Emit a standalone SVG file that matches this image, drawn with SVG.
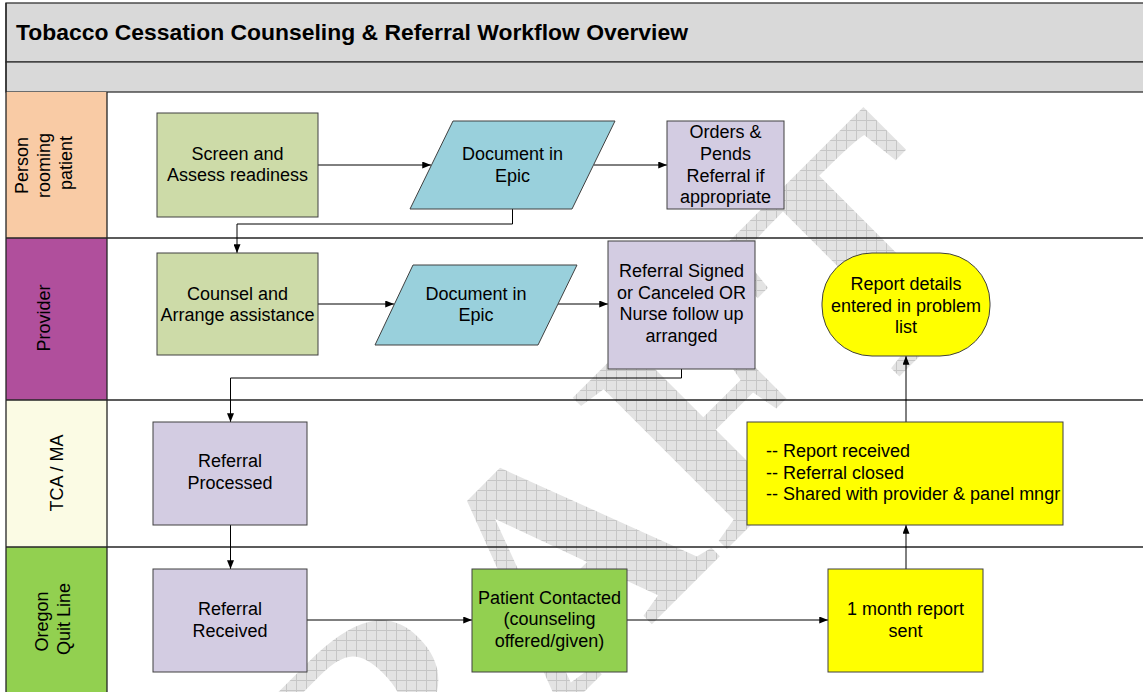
<svg xmlns="http://www.w3.org/2000/svg" width="1143" height="692" viewBox="0 0 1143 692">
  <defs>
    <style>
      .t { font-family: "Liberation Sans", Arial, sans-serif; font-size: 18px; fill: #000; }
      .title { font-family: "Liberation Sans", Arial, sans-serif; font-size: 22px; font-weight: bold; fill: #000; }
      .node { stroke: #404040; stroke-width: 1; }
      .lane { stroke: #262626; stroke-width: 1.3; fill: none; }
      .conn { stroke: #000; stroke-width: 1; fill: none; marker-end: url(#arr); }
    </style>
    <marker id="arr" viewBox="0 0 10 8" refX="10" refY="4" markerWidth="9" markerHeight="7" markerUnits="userSpaceOnUse" orient="auto">
      <path d="M0,0 L10,4 L0,8 Z" fill="#000"/>
    </marker>
    <pattern id="hatch" patternUnits="userSpaceOnUse" width="10" height="10" patternTransform="rotate(45)">
      <rect width="10" height="10" fill="#e3e3e3"/>
      <path d="M0,0.5H10M0.5,0V10" stroke="#c6c6c6" stroke-width="1"/>
    </pattern>
  </defs>

  <rect x="0" y="0" width="1143" height="692" fill="#fff"/>

  <g id="frame">
    <rect x="6" y="3" width="1150" height="59" fill="#d9d9d9" stroke="#333" stroke-width="1.3"/>
    <rect x="6" y="62" width="1150" height="30" fill="#d9d9d9" stroke="#333" stroke-width="1.3"/>
    <text class="title" x="16" y="40" textLength="672" lengthAdjust="spacingAndGlyphs">Tobacco Cessation Counseling &amp; Referral Workflow Overview</text>
  </g>

  <g id="lane-labels">
    <rect x="6" y="92" width="101" height="146" fill="#f9cba5"/>
    <rect x="6" y="238" width="101" height="162" fill="#b04f9c"/>
    <rect x="6" y="400" width="101" height="147" fill="#fbfbe4"/>
    <rect x="6" y="547" width="101" height="150" fill="#92d050"/>
    <text class="t" text-anchor="middle" transform="translate(0,163) rotate(-90)">
      <tspan x="0" y="28">Person</tspan>
      <tspan x="0" y="50">rooming</tspan>
      <tspan x="0" y="72">patient</tspan>
    </text>
    <text class="t" text-anchor="middle" transform="translate(0,318) rotate(-90)"><tspan x="0" y="50">Provider</tspan></text>
    <text class="t" text-anchor="middle" transform="translate(0,473) rotate(-90)"><tspan x="0" y="63">TCA / MA</tspan></text>
    <text class="t" text-anchor="middle" transform="translate(0,619) rotate(-90)">
      <tspan x="0" y="48">Oregon</tspan>
      <tspan x="0" y="70">Quit Line</tspan>
    </text>
  </g>

  <g id="watermark">
    <text transform="translate(216,1060) rotate(-45)" font-family="'Liberation Serif', 'Times New Roman', serif" font-weight="bold" font-size="330" fill="url(#hatch)">DRAFT</text>
  </g>

  <g id="lanes">
    <path class="lane" d="M6,3V700 M107,92V700 M6,238H1150 M6,400H1150 M6,547H1150"/>
  </g>

  <g id="connectors">
    <path class="conn" d="M318,165H431"/>
    <path class="conn" d="M594,165H667"/>
    <path class="conn" d="M512.5,209V224H237V253"/>
    <path class="conn" d="M318,304H394"/>
    <path class="conn" d="M558,304H608"/>
    <path class="conn" d="M681.5,369V378H230.5V422"/>
    <path class="conn" d="M230.5,525V569"/>
    <path class="conn" d="M307,620H472"/>
    <path class="conn" d="M627,620H828"/>
    <path class="conn" d="M906,569V525"/>
    <path class="conn" d="M906,422V356"/>
  </g>

  <g id="screen">
    <rect class="node" x="157" y="113" width="161" height="104" fill="#cddba8"/>
    <text class="t" text-anchor="middle"><tspan x="237.5" y="159.5">Screen and</tspan><tspan x="237.5" y="181">Assess readiness</tspan></text>
  </g>

  <g id="doc1">
    <path class="node" d="M453,121H615L572,209H410Z" fill="#99d0dc"/>
    <text class="t" text-anchor="middle"><tspan x="512.5" y="160">Document in</tspan><tspan x="512.5" y="181.5">Epic</tspan></text>
  </g>

  <g id="orders">
    <rect class="node" x="667" y="121" width="117" height="88" fill="#d3cce2"/>
    <text class="t" text-anchor="middle"><tspan x="725.5" y="138">Orders &amp;</tspan><tspan x="725.5" y="160">Pends</tspan><tspan x="725.5" y="181.5">Referral if</tspan><tspan x="725.5" y="203">appropriate</tspan></text>
  </g>

  <g id="counsel">
    <rect class="node" x="157" y="253" width="161" height="102" fill="#cddba8"/>
    <text class="t" text-anchor="middle"><tspan x="237.5" y="299.5">Counsel and</tspan><tspan x="237.5" y="321">Arrange assistance</tspan></text>
  </g>

  <g id="doc2">
    <path class="node" d="M413,265H577L538,345H375Z" fill="#99d0dc"/>
    <text class="t" text-anchor="middle"><tspan x="476" y="299.5">Document in</tspan><tspan x="476" y="321">Epic</tspan></text>
  </g>

  <g id="signed">
    <rect class="node" x="608" y="241" width="147" height="128" fill="#d3cce2"/>
    <text class="t" text-anchor="middle"><tspan x="681.5" y="277">Referral Signed</tspan><tspan x="681.5" y="298.5">or Canceled OR</tspan><tspan x="681.5" y="320">Nurse follow up</tspan><tspan x="681.5" y="341.5">arranged</tspan></text>
  </g>

  <g id="report-details">
    <rect class="node" x="822" y="253" width="168" height="103" rx="50" ry="50" fill="#ffff00"/>
    <text class="t" text-anchor="middle"><tspan x="906" y="290">Report details</tspan><tspan x="906" y="311.5">entered in problem</tspan><tspan x="906" y="333">list</tspan></text>
  </g>

  <g id="processed">
    <rect class="node" x="153" y="422" width="154" height="103" fill="#d3cce2"/>
    <text class="t" text-anchor="middle"><tspan x="230" y="467">Referral</tspan><tspan x="230" y="488.5">Processed</tspan></text>
  </g>

  <g id="report-received">
    <rect class="node" x="747" y="422" width="316" height="103" fill="#ffff00"/>
    <text class="t"><tspan x="766" y="457">-- Report received</tspan><tspan x="766" y="478.5">-- Referral closed</tspan><tspan x="766" y="500">-- Shared with provider &amp; panel mngr</tspan></text>
  </g>

  <g id="received">
    <rect class="node" x="153" y="569" width="154" height="103" fill="#d3cce2"/>
    <text class="t" text-anchor="middle"><tspan x="230" y="615">Referral</tspan><tspan x="230" y="636.5">Received</tspan></text>
  </g>

  <g id="contacted">
    <rect class="node" x="472" y="569" width="155" height="103" fill="#92d050"/>
    <text class="t" text-anchor="middle"><tspan x="549.5" y="603.5">Patient Contacted</tspan><tspan x="549.5" y="625">(counseling</tspan><tspan x="549.5" y="646.5">offered/given)</tspan></text>
  </g>

  <g id="month-report">
    <rect class="node" x="828" y="569" width="155" height="103" fill="#ffff00"/>
    <text class="t" text-anchor="middle"><tspan x="905.5" y="615">1 month report</tspan><tspan x="905.5" y="636.5">sent</tspan></text>
  </g>
</svg>
